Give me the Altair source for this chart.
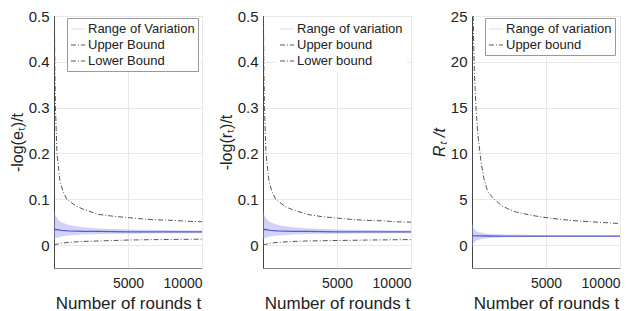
import altair as alt
import pandas as pd

FONT = "Liberation Sans"

# ---------- Panel 1: -log(e_t)/t ----------
p1_up_t = [30, 60, 100, 200, 400, 600, 860, 1500, 2000, 3000, 4000, 5000, 6000, 7000, 8000, 9000, 10000]
p1_up_v = [0.50, 0.38, 0.30, 0.20, 0.14, 0.118, 0.10, 0.085, 0.078, 0.067, 0.063, 0.060, 0.057, 0.055, 0.054, 0.052, 0.051]
p1_lo_t = [1, 200, 500, 1000, 2000, 3000, 5000, 7000, 10000]
p1_lo_v = [0.0, 0.002, 0.004, 0.006, 0.008, 0.009, 0.011, 0.012, 0.013]
band_t = [1, 100, 300, 500, 1000, 2000, 3000, 5000, 7000, 10000]
p1_band_lo = [0.010, 0.015, 0.017, 0.019, 0.021, 0.023, 0.024, 0.025, 0.026, 0.026]
p1_band_hi = [0.075, 0.065, 0.055, 0.050, 0.044, 0.039, 0.036, 0.034, 0.033, 0.032]
p1_mean = [0.036, 0.034, 0.033, 0.032, 0.031, 0.030, 0.030, 0.029, 0.029, 0.029]

# ---------- Panel 2: -log(r_t)/t ----------
p2_up_t = [30, 60, 100, 200, 400, 600, 860, 1500, 2000, 3000, 4000, 5000, 6000, 7000, 8000, 9000, 10000]
p2_up_v = [0.50, 0.38, 0.30, 0.20, 0.14, 0.117, 0.10, 0.084, 0.077, 0.067, 0.062, 0.059, 0.056, 0.054, 0.053, 0.051, 0.050]
p2_lo_t = [1, 200, 500, 1000, 2000, 3000, 5000, 7000, 10000]
p2_lo_v = [0.0, 0.002, 0.004, 0.006, 0.008, 0.009, 0.010, 0.011, 0.012]
p2_band_lo = [0.012, 0.015, 0.017, 0.019, 0.021, 0.023, 0.024, 0.025, 0.026, 0.026]
p2_band_hi = [0.075, 0.064, 0.055, 0.050, 0.044, 0.039, 0.036, 0.034, 0.033, 0.032]
p2_mean = [0.036, 0.034, 0.033, 0.032, 0.031, 0.030, 0.030, 0.029, 0.029, 0.029]

# ---------- Panel 3: R_t/t ----------
p3_up_t = [80, 100, 160, 270, 400, 610, 800, 1070, 1500, 2000, 2500, 3000, 4000, 5000, 6000, 7000, 8000, 9000, 10000]
p3_up_v = [25.0, 23.0, 18.8, 15.0, 12.0, 9.1, 7.3, 5.8, 5.0, 4.3, 3.9, 3.6, 3.25, 3.0, 2.8, 2.65, 2.55, 2.45, 2.35]
p3_band_lo = [-0.3, 0.2, 0.5, 0.6, 0.75, 0.82, 0.86, 0.88, 0.89, 0.90]
p3_band_hi = [2.4, 1.9, 1.5, 1.4, 1.25, 1.15, 1.12, 1.08, 1.06, 1.05]
p3_mean = [1.05, 1.02, 1.0, 1.0, 0.99, 0.98, 0.98, 0.97, 0.97, 0.97]

x_ticks = [5000, 10000]
y_ticks_12 = [0, 0.1, 0.2, 0.3, 0.4, 0.5]
y_ticks_3 = [0, 5, 10, 15, 20, 25]

labels_1 = ["Range of Variation", "Upper Bound", "Lower Bound"]
labels_2 = ["Range of variation", "Upper bound", "Lower bound"]
labels_3 = ["Range of variation", "Upper bound"]

DASH = [5, 2, 1, 2]


def panel(up_t, up_v, lo_t, lo_v, b_lo, b_hi, mean, labels, ydom, yticks, ytitle, yfmt,
          legend_stroke, title_style):
    rows = []
    for t, v in zip(up_t, up_v):
        rows.append({"t": t, "v": v, "series": labels[1]})
    if lo_t is not None:
        for t, v in zip(lo_t, lo_v):
            rows.append({"t": t, "v": v, "series": labels[2]})
    lines_df = pd.DataFrame(rows)
    band_df = pd.DataFrame({"t": band_t, "lo": b_lo, "hi": b_hi, "mean": mean})

    xenc = alt.X("t:Q", scale=alt.Scale(domain=[0, 10000], nice=False),
                 axis=alt.Axis(values=x_ticks, title="Number of rounds t", grid=True, format="d",
                               gridColor="#e8e8e8", ticks=False, domainColor="#888888",
                               labelFontSize=14, titleFontSize=17, labelPadding=8,
                               titlePadding=5, labelColor="#222", titleColor="#222",
                               labelFont=FONT, titleFont=FONT, titleFontWeight="normal"))
    yscale = alt.Scale(domain=ydom, nice=False, zero=False)
    yaxis = alt.Axis(values=yticks, title=ytitle, format=yfmt, grid=True, gridColor="#e8e8e8",
                     ticks=False, domainColor="#444444", labelFontSize=15, titleFontSize=16,
                     labelPadding=5, titlePadding=3, labelColor="#222", titleColor="#222",
                     labelFont=FONT, titleFont=FONT, titleFontWeight="normal",
                     titleFontStyle=title_style)

    band = alt.Chart(band_df).mark_area(color="#9c9cea", opacity=0.45).encode(
        x=xenc, y=alt.Y("lo:Q", scale=yscale, axis=yaxis), y2="hi:Q")
    meanl = alt.Chart(band_df).mark_line(color="#5a5acc", strokeWidth=1.3).encode(
        x="t:Q", y="mean:Q")

    n = len(labels)
    colors = ["#dcdcdc", "#555555", "#555555"][:n]
    dashes = [[1, 0], DASH, DASH][:n]
    leg = alt.Legend(title=None, orient="none", legendX=13, legendY=2, symbolType="stroke",
                     symbolSize=200, symbolStrokeWidth=1.2, labelFontSize=13, labelFont=FONT,
                     labelColor="#222", strokeColor=legend_stroke, fillColor="white",
                     padding=3, rowPadding=1, labelOffset=2)
    lines = alt.Chart(lines_df).mark_line(strokeWidth=1, clip=True).encode(
        x="t:Q", y="v:Q",
        color=alt.Color("series:N", scale=alt.Scale(domain=labels, range=colors), legend=leg),
        strokeDash=alt.StrokeDash("series:N", scale=alt.Scale(domain=labels, range=dashes), legend=leg),
    )
    return alt.layer(band, meanl, lines).properties(width=148, height=252)


c1 = panel(p1_up_t, p1_up_v, p1_lo_t, p1_lo_v, p1_band_lo, p1_band_hi, p1_mean, labels_1,
           [-0.05, 0.5], y_ticks_12, "-log(eₜ)/t", ".1~f", "#999999", "normal")
c2 = panel(p2_up_t, p2_up_v, p2_lo_t, p2_lo_v, p2_band_lo, p2_band_hi, p2_mean, labels_2,
           [-0.05, 0.5], y_ticks_12, "-log(rₜ)/t", ".1~f", "white", "normal")
c3 = panel(p3_up_t, p3_up_v, None, None, p3_band_lo, p3_band_hi, p3_mean, labels_3,
           [-2.5, 25], y_ticks_3, "Rₜ /t", "d", "#999999", "italic")

chart = alt.hconcat(c1, c2, c3, spacing=61, bounds="flush").resolve_scale(
    color="independent", strokeDash="independent", x="independent", y="independent"
).properties(padding={"left": 0, "top": 0, "right": 0, "bottom": 0}).configure_view(
    stroke=None
).configure(background="white")

chart.save("out.html", embed_options={"renderer": "svg", "actions": False})
